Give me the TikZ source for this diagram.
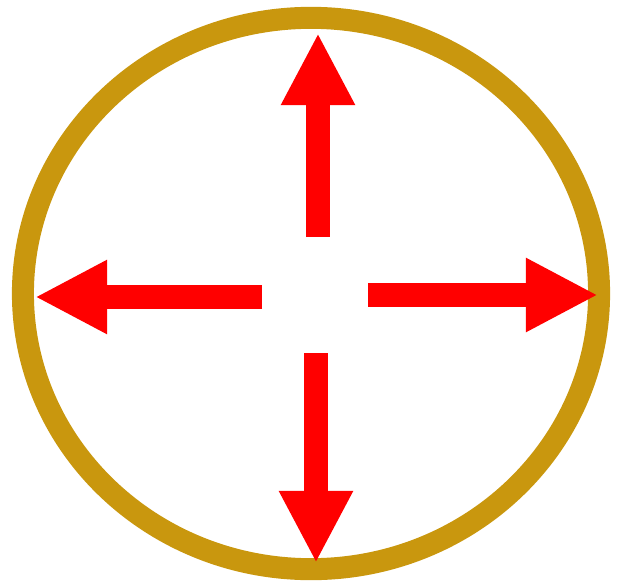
\documentclass[tikz,border=0pt]{standalone}
\usetikzlibrary{arrows.meta,shapes.geometric}
\definecolor{rimgold}{RGB}{201,151,14}
\definecolor{pushred}{RGB}{255,0,0}
\tikzset{
  rimline/.style={draw=rimgold, line width=0.55cm, ellipse, inner sep=0pt,
    minimum width=14.4cm, minimum height=13.78cm},
  push/.style={draw=pushred, line width=0.6cm,
    -{Triangle[length=1.8cm, width=1.72cm]}}
}
\begin{document}
\begin{tikzpicture}[x=0.025cm, y=-0.025cm]
	\useasboundingbox (0,0) rectangle (617,585);
	\node[rimline] (rim) at (311,293.5) {};
	% shaft starts near the middle
	\coordinate (upfrom) at (318,237);
	\coordinate (leftfrom) at (262,297);
	\coordinate (rightfrom) at (368,295);
	\coordinate (downfrom) at (316,353);
	% tips touch the rim
	\coordinate (uptip) at (318,33);
	\coordinate (lefttip) at (35,297);
	\coordinate (righttip) at (598,295);
	\coordinate (downtip) at (316,563);
	\draw[push] (upfrom) -- (uptip);
	\draw[push] (leftfrom) -- (lefttip);
	\draw[push] (rightfrom) -- (righttip);
	\draw[push] (downfrom) -- (downtip);
\end{tikzpicture}
\end{document}
